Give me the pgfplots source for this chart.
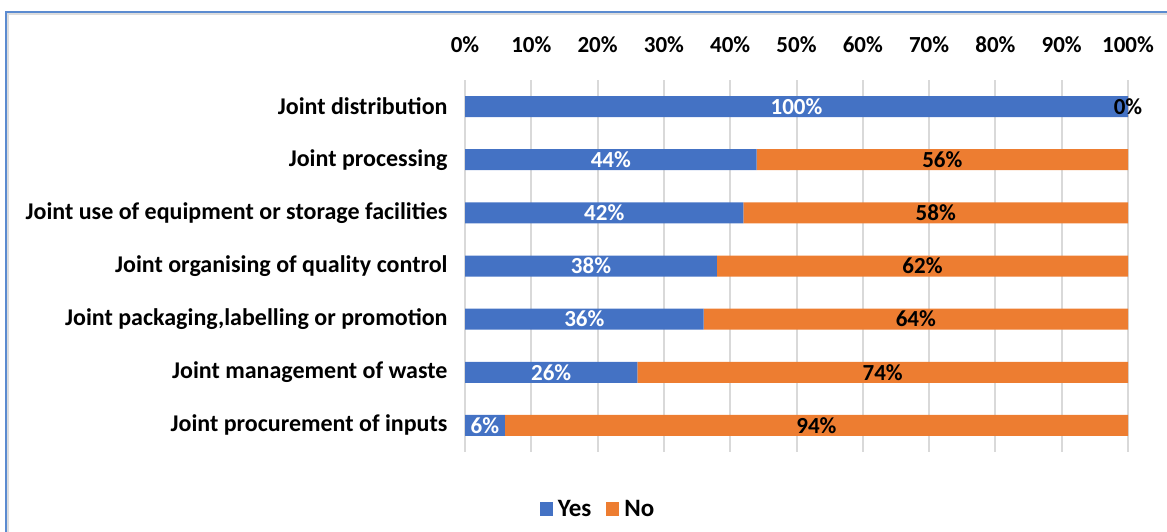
\documentclass[border=0pt]{standalone}
\usepackage{pgfplots}
\pgfplotsset{compat=1.18}
\usepackage{pgfplotstable}
\usepackage{fontspec}
\setmainfont{Carlito}

\definecolor{yesblue}{HTML}{4472C4}
\definecolor{noorange}{HTML}{ED7D31}
\definecolor{gridgray}{HTML}{D9D9D9}
\definecolor{framecol}{HTML}{5B8BD0}
\definecolor{shadow}{HTML}{DDDDDD}

% idx 0 = top row
\pgfplotstableread{
idx yes no
0   100 0
1   44  56
2   42  58
3   38  62
4   36  64
5   26  74
6   6   94
}\sharing

\begin{document}
\begin{tikzpicture}[x=1pt,y=1pt]
\useasboundingbox (0,0) rectangle (1167,532);
\draw[line width=2pt, shadow] (8,0) -- (8,517.5) -- (1167,517.5);
\draw[line width=2pt, framecol] (6,0) -- (6,520) -- (1167,520);
\begin{axis}[
  at={(465pt,80pt)}, anchor=south west,
  width=663pt, height=372pt, scale only axis,
  clip=false,
  xbar stacked, bar width=21pt,
  y dir=reverse,
  xmin=0, xmax=100, ymin=-0.5, ymax=6.5,
  xtick={0,10,...,100},
  xticklabel={\pgfmathprintnumber{\tick}\%},
  xticklabel pos=upper,
  /pgf/number format/assume math mode=true,
  ytick={0,...,6},
  yticklabels={Joint distribution, Joint processing,
    Joint use of equipment or storage facilities,
    Joint organising of quality control,
    {Joint packaging,labelling or promotion},
    Joint management of waste, Joint procurement of inputs},
  axis line style={draw=none},
  major tick length=0pt,
  xmajorgrids, grid style={gridgray, line width=2pt},
  xticklabel style={font=\bfseries\fontsize{23}{26}\selectfont,
    anchor=base, yshift=28pt},
  yticklabel style={font=\bfseries\fontsize{24}{28}\selectfont, xshift=-14pt},
  legend style={at={(0.2006,0)}, anchor=center, yshift=-57pt, draw=none,
    font=\bfseries\fontsize{25}{28}\selectfont,
    /tikz/every odd column/.append style={column sep=3pt},
    /tikz/every even column/.append style={column sep=13pt}},
  legend columns=2,
  legend image code/.code={\fill[#1,draw=none] (0pt,-7pt) rectangle (13pt,7pt);},
  nodes near coords={\pgfmathprintnumber{\rawx}\%},
]
% stacked segments get their labels at the segment's middle here
\addplot[fill=yesblue, draw=none,
  visualization depends on=\thisrow{yes} \as \rawx,
  every node near coord/.append style={anchor=center, text=white,
    font=\bfseries\fontsize{23}{26}\selectfont}]
  table[x=yes, y=idx] {\sharing};
\addlegendentry{Yes}
% a zero-length segment drops its label, so give it a hair of length
\addplot[fill=noorange, draw=none,
  visualization depends on=\thisrow{no} \as \rawx,
  every node near coord/.append style={anchor=center, text=black,
    font=\bfseries\fontsize{23}{26}\selectfont}]
  table[x expr={max(\thisrow{no},0.01)}, y=idx] {\sharing};
\addlegendentry{No}
\end{axis}
\end{tikzpicture}
\end{document}
